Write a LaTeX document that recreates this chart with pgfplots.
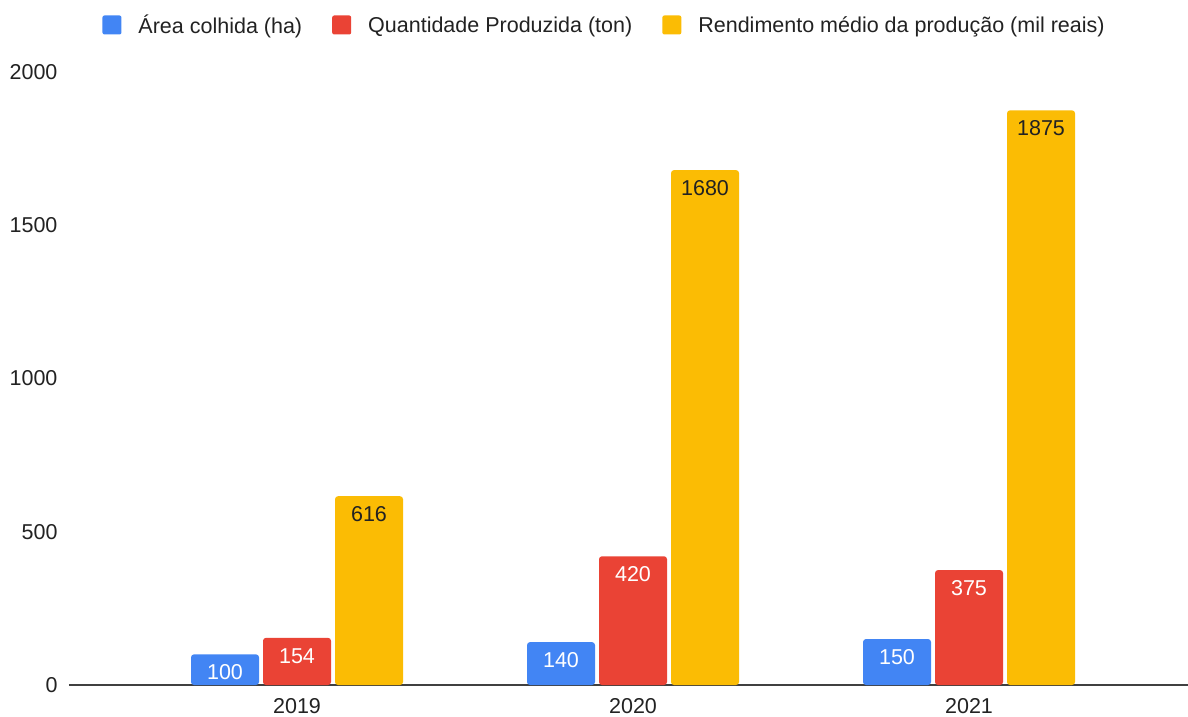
\documentclass[border=0pt]{standalone}
\usepackage{pgfplots}
\pgfplotsset{compat=1.18}
\usepackage{fontspec}
\setmainfont{Liberation Sans}
\definecolor{cblue}{HTML}{4285F4}
\definecolor{cred}{HTML}{EA4335}
\definecolor{cyellow}{HTML}{FBBC04}
\definecolor{txt}{HTML}{222222}
\begin{document}
\begin{tikzpicture}
\useasboundingbox (-69pt,-31pt) rectangle (1119pt,685pt);
\begin{axis}[
  at={(0pt,0pt)}, anchor=south west,
  scale only axis,
  width=1119pt, height=613pt,
  font=\fontsize{21.5pt}{25pt}\selectfont,
  ybar=4pt, bar width=68pt,
  xmin=-0.6786, xmax=2.6518,
  ymin=0, ymax=2000,
  ytick={0,500,1000,1500,2000},
  xtick={0,1,2}, xticklabels={2019,2020,2021},
  major tick length=0pt,
  axis lines*=left,
  x axis line style={draw=black!75, line width=1.2pt},
  y axis line style={draw=none},
  /pgf/number format/assume math mode=true,
  /pgf/number format/1000 sep={},
  yticklabel style={text=txt, xshift=-8pt},
  xticklabel style={text=txt, yshift=-10pt},
  legend image code/.code={\fill[#1, rounded corners=2pt] (0pt,-9.5pt) rectangle (19pt,9.5pt);},
  legend style={at={(0.4786,1.0767)}, anchor=center, draw=none, fill=none,
    legend columns=3, font=\fontsize{21.5pt}{25pt}\selectfont, text=txt,
    /tikz/every odd column/.append style={column sep=15pt},
    /tikz/every even column/.append style={column sep=28pt}},
  legend cell align=left,
  nodes near coords,
  every node near coord/.append style={anchor=north, yshift=-7pt, font=\fontsize{21.5pt}{25pt}\selectfont},
]
\addplot[fill=cblue, draw=none, rounded corners=3pt, every node near coord/.append style={text=white}] coordinates {(0,100) (1,140) (2,150)};
\addplot[fill=cred, draw=none, rounded corners=3pt, every node near coord/.append style={text=white}] coordinates {(0,154) (1,420) (2,375)};
\addplot[fill=cyellow, draw=none, rounded corners=3pt, every node near coord/.append style={text=txt}] coordinates {(0,616) (1,1680) (2,1875)};
\legend{Área colhida (ha), Quantidade Produzida (ton), Rendimento médio da produção (mil reais)}
\end{axis}
\end{tikzpicture}
\end{document}
